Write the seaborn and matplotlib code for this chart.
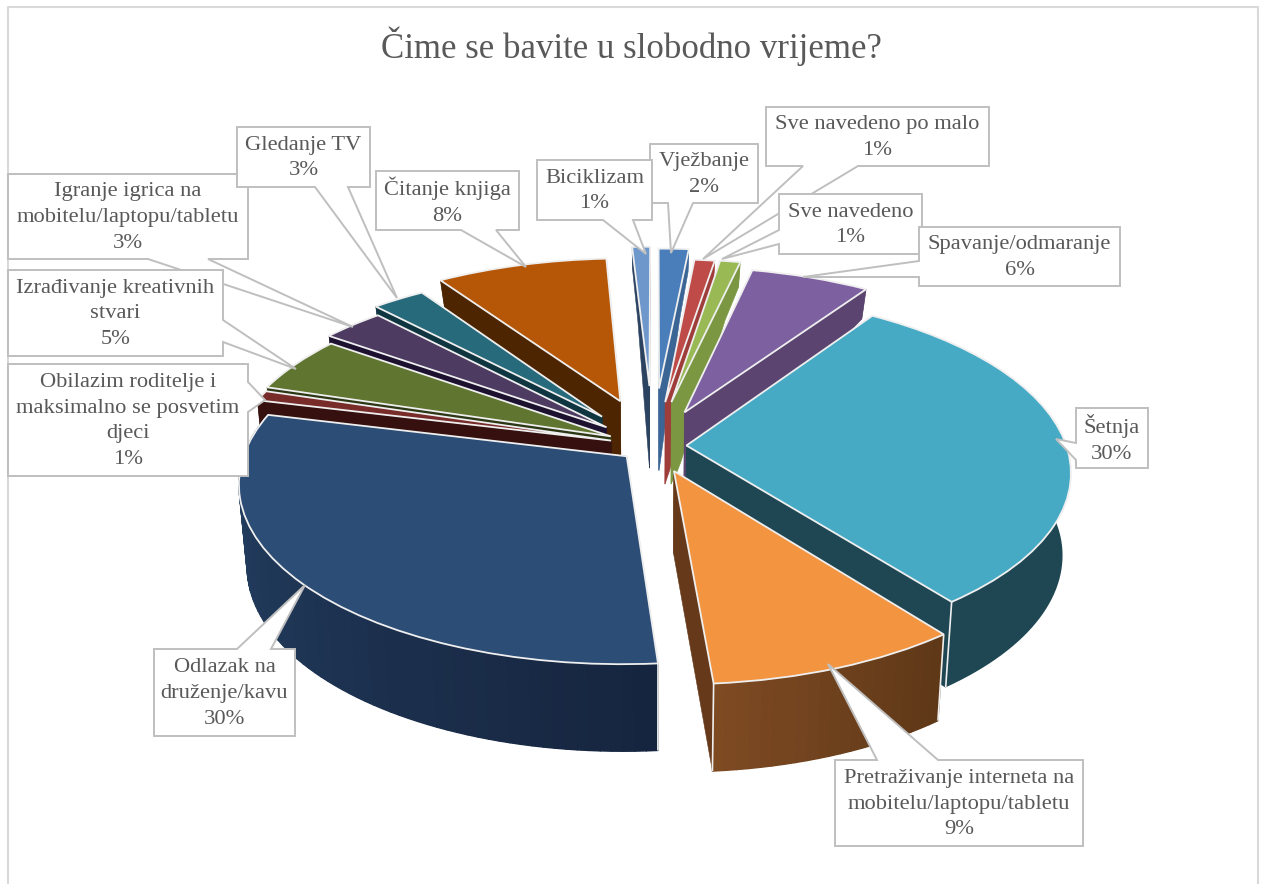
import numpy as np
import matplotlib
matplotlib.use("Agg")
import matplotlib.pyplot as plt
import seaborn as sns
from matplotlib.collections import PolyCollection
from matplotlib.patches import Polygon
from matplotlib.transforms import Transform

# ---- data ----
categories = ["Biciklizam", "Vježbanje", "Sve navedeno po malo", "Sve navedeno",
              "Spavanje/odmaranje", "Šetnja",
              "Pretraživanje interneta na\nmobitelu/laptopu/tabletu",
              "Odlazak na\ndruženje/kavu",
              "Obilazim roditelje i\nmaksimalno se posvetim\ndjeci",
              "Izrađivanje kreativnih\nstvari",
              "Igranje igrica na\nmobitelu/laptopu/tabletu",
              "Gledanje TV", "Čitanje knjiga"]
shares = [0.9, 1.5, 1.0, 1.0, 5.86, 30.0, 9.11, 29.99, 0.92, 5.08, 3.05, 2.6, 8.49]
labels_pct = [1, 2, 1, 1, 6, 30, 9, 30, 1, 5, 3, 3, 8]
title = "Čime se bavite u slobodno vrijeme?"

# ---- style ----
explode = [0.36, 0.345, 0.262, 0.265, 0.215, 0.088, 0.15, 0.09, 0.115, 0.125, 0.165, 0.22, 0.28]
top_colors = ["#6E98CC", "#4A7EBB", "#BE4B48", "#98B954", "#7D60A0", "#46AAC5", "#F39441",
              "#2C4D75", "#772C2A", "#5F7530", "#4D3B62", "#276A7C", "#B65708"]
wall_left = ["#2B4260", "#3A6595", "#9E3D3A", "#7B9742", "#5B4570", "#1F4753", "#7D4A22",
             "#264468", "#360F0F", "#2C3815", "#1C1230", "#0F3540", "#4D2500"]
wall_right = ["#2B4260", "#3A6595", "#9E3D3A", "#7B9742", "#5B4570", "#1F4753", "#5F3818",
              "#16253F", "#360F0F", "#2C3815", "#1C1230", "#0F3540", "#4D2500"]
cut_colors = ["#2B4260", "#3A6595", "#9E3D3A", "#7B9742", "#5B4570", "#1F4753", "#66391A",
              "#16253F", "#360F0F", "#2C3815", "#1C1230", "#0F3540", "#4D2500"]

W, H = 1261, 884
CX, CY, RX, RY, D = 653.0, 446.0, 380.0, 175.0, 7.0
EDGE = "#EFEFEF"
GRAY = "#BFBFBF"
TXT = "#595959"
FONT = "Liberation Serif"

sns.set_theme(style="white")
plt.rcParams["font.family"] = [FONT, "DejaVu Sans"]


def project(x, y):
    """Pie plane -> picture pixels, with perspective."""
    x, y = np.asarray(x, float), np.asarray(y, float)
    s = D / (D + y)
    return CX + RX * x * s, CY - RY * y * s


def drop(px, py):
    """The same point on the underside of the pie."""
    d = np.interp(py, [245, 290, 385, 470, 700], [22, 30, 82, 82, 88])
    return CX + (px - CX) * 0.98, py + d


class PieProjection(Transform):
    input_dims = output_dims = 2

    def transform_non_affine(self, values):
        px, py = project(values[:, 0], values[:, 1])
        return np.column_stack([px, py])


fig = plt.figure(figsize=(W / 100, H / 100), dpi=100, facecolor="white")
ax = fig.add_axes([0, 0, 1, 1])

wedges, _ = ax.pie(shares, explode=explode, startangle=93.2, counterclock=False,
                   colors=top_colors, radius=1,
                   wedgeprops=dict(edgecolor=EDGE, linewidth=1.3))
ax.set_aspect("auto")
ax.set_xlim(0, W)
ax.set_ylim(H, 0)
ax.axis("off")

proj = PieProjection() + ax.transData
mids = [np.radians((w.theta1 + w.theta2) / 2) for w in wedges]
order = sorted(range(len(wedges)),
               key=lambda i: -(explode[i] + 0.6) * np.sin(mids[i]))

for rank, i in enumerate(order):
    w = wedges[i]
    base = 10 + rank * 10
    cx, cy = w.center
    # the two cut faces
    for ang in (w.theta1, w.theta2):
        t = np.linspace(0, 1, 24)
        a = np.radians(ang)
        px, py = project(cx + t * np.cos(a), cy + t * np.sin(a))
        bx, by = drop(px, py)
        ax.add_patch(Polygon(np.column_stack([np.r_[px, bx[::-1]], np.r_[py, by[::-1]]]),
                             closed=True, facecolor=cut_colors[i], edgecolor=cut_colors[i],
                             linewidth=0.4, zorder=base))
    # the outer wall: one solid band, then shaded strips over it
    n = max(6, int((w.theta2 - w.theta1) / 1.5))
    angs = np.radians(np.linspace(w.theta1, w.theta2, n + 1))
    px, py = project(cx + np.cos(angs), cy + np.sin(angs))
    bx, by = drop(px, py)
    ax.add_patch(Polygon(np.column_stack([np.r_[px, bx[::-1]], np.r_[py, by[::-1]]]),
                         closed=True, facecolor=wall_right[i], edgecolor="none",
                         zorder=base + 1))
    if wall_left[i] != wall_right[i]:
        polys = [np.array([[px[j], py[j]], [px[j + 1], py[j + 1]],
                           [bx[j + 1], by[j + 1]], [bx[j], by[j]]]) for j in range(n)]
        shades = sns.blend_palette([wall_left[i], wall_right[i]], n)
        ax.add_collection(PolyCollection(polys, facecolors=shades, edgecolors=shades,
                                         linewidths=1.0, zorder=base + 1), autolim=False)
    # light corners between the faces that look towards the viewer
    for k, ang in ((0, w.theta1), (n, w.theta2)):
        if np.sin(np.radians(ang)) < -0.3:
            ax.plot([px[k], bx[k]], [py[k], by[k]], color=EDGE, lw=1.2, zorder=base + 2,
                    solid_capstyle="butt")
    w.set_transform(proj)
    w.set_clip_on(False)
    w.set_zorder(base + 3)

# ---- callouts (drawn in this order) ----
callouts = [
    # index, box (x0, y0, x1, y1), side, pointer base a, b, pointer tip
    (10, (8, 174, 248, 259), "bottom", 148, 208, (353, 327)),
    (1, (650, 144, 758, 203), "bottom", 668, 693, (671, 253)),
    (0, (537, 160, 652, 220), "bottom", 603, 633, (646, 254)),
    (2, (766, 107, 989, 166), "bottom", 803, 858, (703, 259)),
    (3, (779, 194, 922, 254), "left", 230, 244, (722, 259)),
    (4, (919, 227, 1120, 286), "left", 261, 277, (803, 277)),
    (5, (1076, 408, 1148, 468), "left", 443, 460, (1056, 439)),
    (6, (835, 760, 1083, 846), "top", 877, 938, (828, 664)),
    (7, (154, 649, 295, 736), "top", 237, 271, (305, 585)),
    (9, (8, 270, 223, 356), "right", 320, 342, (296, 369)),
    (8, (8, 364, 248, 476), "right", 382, 412, (265, 400)),
    (11, (237, 127, 370, 187), "bottom", 315, 348, (397, 298)),
    (12, (376, 171, 519, 230), "bottom", 461, 496, (526, 267)),
]

for n, (i, (x0, y0, x1, y1), side, a, b, tip) in enumerate(callouts):
    if side == "bottom":
        pts = [(x0, y0), (x1, y0), (x1, y1), (b, y1), tip, (a, y1), (x0, y1)]
    elif side == "top":
        pts = [(x0, y0), (a, y0), tip, (b, y0), (x1, y0), (x1, y1), (x0, y1)]
    elif side == "left":
        pts = [(x0, y0), (x1, y0), (x1, y1), (x0, y1), (x0, b), tip, (x0, a)]
    else:
        pts = [(x0, y0), (x1, y0), (x1, a), tip, (x1, b), (x1, y1), (x0, y1)]
    z = 300 + n * 2
    ax.add_patch(Polygon(pts, closed=True, facecolor="white", edgecolor=GRAY,
                         linewidth=1.4, joinstyle="miter", zorder=z))
    ax.text((x0 + x1) / 2, (y0 + y1) / 2 + 1, f"{categories[i]}\n{labels_pct[i]}%",
            ha="center", va="center", multialignment="center", fontsize=16.2,
            color=TXT, family=[FONT, "DejaVu Sans"], linespacing=1.48, zorder=z + 1)

# ---- chart frame and title ----
ax.plot([7.5, 7.5, 1258, 1258], [H, 6.5, 6.5, H], color="#D9D9D9", lw=1.5, zorder=1)
ax.text(631, 46, title, ha="center", va="center", fontsize=25.1, color=TXT,
        family=[FONT, "DejaVu Sans"], zorder=5)

fig.savefig("out.png", dpi=100, facecolor="white")
